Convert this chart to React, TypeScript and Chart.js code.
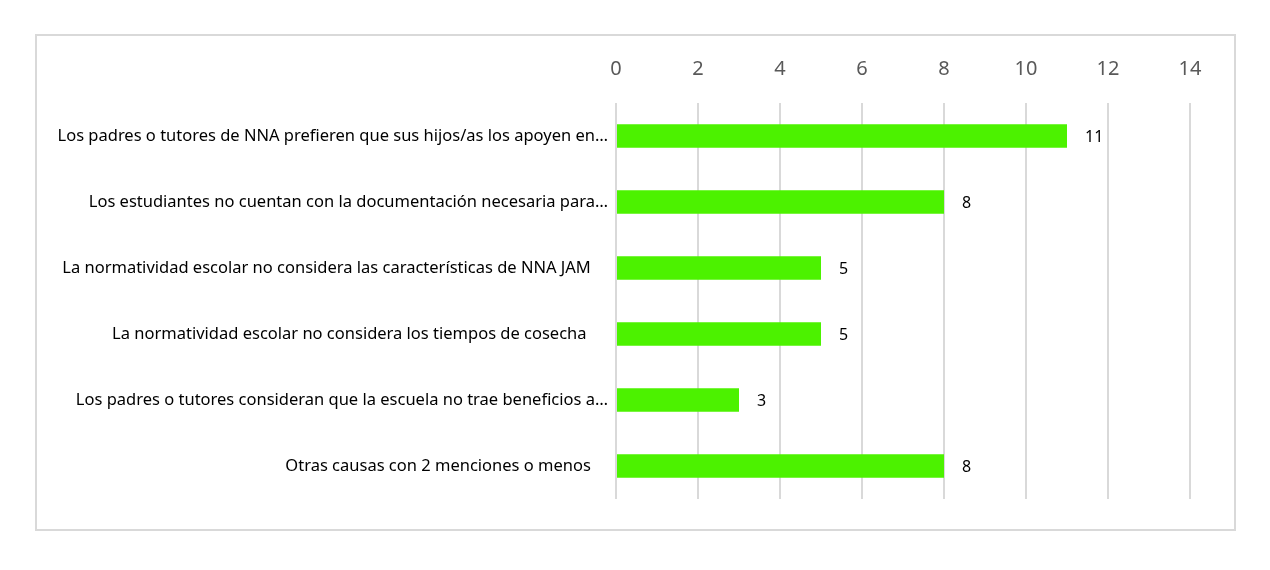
import { useEffect, useRef } from 'react';
import { Chart, registerables } from 'chart.js';

const categories = [
  'Los padres o tutores de NNA prefieren que sus hijos/as los apoyen en…',
  'Los estudiantes no cuentan con la documentación necesaria para…',
  'La normatividad escolar no considera las características de NNA JAM    ',
  'La normatividad escolar no considera los tiempos de cosecha     ',
  'Los padres o tutores consideran que la escuela no trae beneficios a…',
  'Otras causas con 2 menciones o menos    ',
];
const menciones = [11, 8, 5, 5, 3, 8];
const axisMin = 0;
const axisMax = 14;
const axisStep = 2;

const FONT = '"Noto Sans", "Open Sans", sans-serif';

const valueLabels = {
  id: 'valueLabels',
  afterDatasetsDraw(chart: Chart) {
    const { ctx } = chart;
    const meta = chart.getDatasetMeta(0);
    ctx.save();
    ctx.font = `16px ${FONT}`;
    ctx.fillStyle = '#000000';
    ctx.textAlign = 'left';
    ctx.textBaseline = 'middle';
    meta.data.forEach((bar: any, i: number) => {
      ctx.fillText(String(menciones[i]), bar.x + 18, bar.y + 1);
    });
    ctx.restore();
  },
};

const App = () => {
  const canvasRef = useRef<HTMLCanvasElement>(null);
  const chartRef = useRef<Chart | null>(null);

  useEffect(() => {
    Chart.register(...registerables);
    if (!canvasRef.current) return;
    if (chartRef.current) chartRef.current.destroy();

    chartRef.current = new Chart(canvasRef.current, {
      type: 'bar',
      data: {
        labels: categories,
        datasets: [
          {
            data: menciones,
            backgroundColor: '#4cf200',
            borderWidth: 0,
            barPercentage: 0.354,
            categoryPercentage: 1,
          },
        ],
      },
      options: {
        indexAxis: 'y',
        animation: false,
        responsive: false,
        maintainAspectRatio: false,
        layout: { padding: { left: 0, top: 0, right: 44, bottom: 31 } },
        plugins: {
          legend: { display: false },
          tooltip: { enabled: false },
        },
        scales: {
          x: {
            position: 'top',
            min: axisMin,
            max: axisMax,
            border: { display: false },
            grid: { color: '#d9d9d9', lineWidth: 2, drawTicks: false },
            ticks: {
              stepSize: axisStep,
              color: '#595959',
              padding: 22,
              font: { family: FONT, size: 20 },
            },
            afterFit: (scale: any) => {
              scale.height = 68;
            },
          },
          y: {
            border: { display: false },
            grid: { display: false, drawTicks: false },
            ticks: {
              color: '#000000',
              padding: 8,
              font: { family: FONT, size: 16.5 },
            },
            afterFit: (scale: any) => {
              scale.width = 580;
            },
          },
        },
      },
      plugins: [valueLabels],
    });

    return () => {
      if (chartRef.current) {
        chartRef.current.destroy();
        chartRef.current = null;
      }
    };
  }, []);

  return (
    <div style={{ position: 'fixed', left: 0, top: 0, width: 1270, height: 570, background: '#ffffff' }}>
      <div
        style={{
          position: 'absolute',
          left: 35,
          top: 34,
          width: 1201,
          height: 497,
          border: '2px solid #d9d9d9',
          boxSizing: 'border-box',
        }}
      />
      <canvas
        ref={canvasRef}
        width={1198}
        height={495}
        style={{ position: 'absolute', left: 36, top: 35, width: 1198, height: 495 }}
      />
    </div>
  );
};

export default App;
